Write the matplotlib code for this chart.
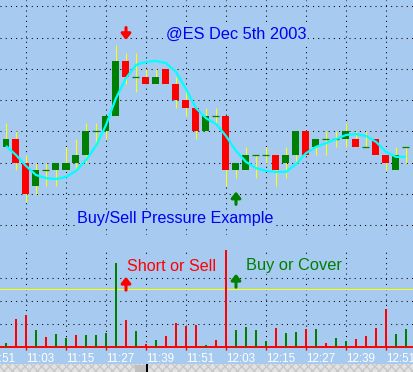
import matplotlib
matplotlib.use('Agg')
import matplotlib.pyplot as plt
import numpy as np
from matplotlib.patches import Rectangle

BG = '#A6CAF0'
RED = '#FF0000'
GREEN = '#008000'
BLUE = '#0000F0'

# ---- data (3-minute bars, @ES Dec 5th 2003, 10:57 .. 12:57) ----
opens = [1064.5, 1064.75, 1064.0, 1063.25, 1063.75, 1063.75, 1063.75, 1064.0, 1064.25, 1065.0,
         1065.0, 1065.5, 1067.25, 1066.75, 1066.75, 1066.5, 1067.0, 1066.5, 1066.0, 1065.75,
         1065.0, 1065.5, 1065.5, 1063.75, 1063.75, 1064.25, 1064.25, 1064.25, 1064.0, 1064.25,
         1065.0, 1064.5, 1064.75, 1064.75, 1064.75, 1064.75, 1064.5, 1064.75, 1064.25, 1063.75,
         1064.5]
highs = [1065.25, 1065.0, 1064.25, 1064.0, 1064.0, 1064.0, 1064.5, 1064.75, 1065.25, 1065.25,
         1065.5, 1067.75, 1067.5, 1067.5, 1067.0, 1067.0, 1067.0, 1066.75, 1066.25, 1065.75,
         1065.75, 1065.75, 1065.5, 1064.0, 1064.5, 1064.25, 1064.5, 1064.25, 1064.5, 1065.0,
         1065.0, 1064.75, 1065.0, 1065.0, 1065.25, 1065.0, 1065.0, 1064.75, 1064.25, 1064.5,
         1064.5]
lows = [1064.5, 1063.75, 1062.75, 1063.0, 1063.25, 1063.25, 1063.75, 1063.75, 1064.0, 1064.5,
        1064.75, 1065.5, 1066.5, 1066.25, 1066.5, 1066.5, 1066.5, 1065.75, 1065.5, 1064.75,
        1065.0, 1065.25, 1063.25, 1063.5, 1063.75, 1063.5, 1064.0, 1063.25, 1063.5, 1064.0,
        1064.25, 1064.25, 1064.25, 1064.5, 1064.5, 1064.5, 1064.5, 1064.25, 1063.75, 1063.75,
        1064.0]
closes = [1064.75, 1064.0, 1063.0, 1063.75, 1063.75, 1064.0, 1064.0, 1064.25, 1065.0, 1065.0,
          1065.5, 1067.25, 1066.75, 1066.75, 1066.5, 1066.75, 1066.5, 1066.0, 1065.75, 1065.0,
          1065.5, 1065.5, 1063.75, 1064.0, 1064.25, 1064.25, 1064.25, 1063.75, 1064.25, 1065.0,
          1064.25, 1064.75, 1064.75, 1064.75, 1065.0, 1064.5, 1064.5, 1064.25, 1064.0, 1064.25,
          1064.5]
smooth = [1064.53, 1064.24, 1063.89, 1063.60, 1063.50, 1063.47, 1063.54, 1063.73, 1064.08, 1064.53,
          1065.20, 1066.06, 1066.70, 1067.12, 1067.22, 1067.25, 1067.18, 1066.90, 1066.35, 1065.74,
          1065.42, 1065.23, 1064.85, 1064.37, 1064.02, 1063.82, 1063.73, 1063.70, 1063.70, 1063.95,
          1064.30, 1064.50, 1064.62, 1064.75, 1064.88, 1064.91, 1064.85, 1064.66, 1064.34, 1064.18,
          1064.18]
volume = [90, 610, 690, 370, 220, 280, 200, 260, 260, 260,
          300, 1820, 590, 350, 70, 150, 240, 520, 460, 480,
          40, 150, 2100, 370, 430, 370, 130, 410, 300, 330,
          390, 390, 90, 200, 130, 170, 240, 410, 820, 280,
          390]
pressure = ['buy', 'sell', 'sell', 'buy', 'sell', 'buy', 'buy', 'sell', 'buy', 'buy',
            'buy', 'buy', 'sell', 'buy', 'sell', 'buy', 'sell', 'sell', 'sell', 'sell',
            'buy', 'sell', 'sell', 'buy', 'buy', 'buy', 'buy', 'sell', 'buy', 'buy',
            'sell', 'buy', 'sell', 'buy', 'buy', 'sell', 'sell', 'sell', 'sell', 'buy',
            'buy']
tick_bars = [2, 6, 10, 14, 18, 22, 26, 30, 34, 38]
tick_labels = ['11:03', '11:15', '11:27', '11:39', '11:51',
               '12:03', '12:15', '12:27', '12:39', '12:51']
first_label_bar, first_label = -2, '10:51'
vol_threshold = 1260
short_bar, cover_bar = 12, 23

n = len(opens)
x = np.arange(n)
o = np.array(opens); h = np.array(highs); l = np.array(lows); c = np.array(closes)

W, H = 413, 372
fig = plt.figure(figsize=(W / 100, H / 100), dpi=100, facecolor=BG)
plt.rcParams['font.family'] = ['Liberation Sans', 'DejaVu Sans']

XL = (-0.6, 40.7)
grid_kw = dict(color='black', linestyle=(0, (1, 4)), linewidth=0.75)
TICK_LEN, TICK_PAD, TICK_FS = 2.3, 1.8, 8.4

# ---------------- price panel ----------------
axp = fig.add_axes([0, (H - 235) / H, 1, 235 / H])
axp.set_facecolor(BG)
for s in axp.spines.values():
    s.set_visible(False)
axp.set_xticks(tick_bars)
axp.set_yticks(np.arange(1062, 1070, 1))
axp.tick_params(length=0, labelbottom=False, labelleft=False)
axp.set_axisbelow(True)
axp.grid(True, **grid_kw)

axp.vlines(x, l, h, color='#FFFF00', linewidth=0.8, zorder=2)
up = c > o
dn = c < o
dj = c == o
axp.bar(x[up], (c - o)[up], bottom=o[up], width=0.7, color=GREEN, zorder=3, linewidth=0)
axp.bar(x[dn], (o - c)[dn], bottom=c[dn], width=0.7, color=RED, zorder=3, linewidth=0)
axp.hlines(c[dj], x[dj] - 0.35, x[dj] + 0.35, color=GREEN, linewidth=0.9, zorder=3)
axp.plot(x, smooth, color='#00FFFF', linewidth=1.6, zorder=4, solid_capstyle='butt')

arrow_style = '-|>,head_length=0.35,head_width=0.28'
axp.annotate('', xy=(short_bar, 1067.92), xytext=(short_bar, 1068.32),
             arrowprops=dict(arrowstyle=arrow_style, lw=2.2, color=RED,
                             shrinkA=0, shrinkB=0), zorder=5)
axp.annotate('', xy=(cover_bar, 1063.07), xytext=(cover_bar, 1062.66),
             arrowprops=dict(arrowstyle=arrow_style, lw=2.2, color=GREEN,
                             shrinkA=0, shrinkB=0), zorder=5)

tb = dict(facecolor=BG, edgecolor='none', pad=0.6)
axp.text(16.0, 1068.1, '@ES Dec 5th 2003', color=BLUE, fontsize=11.8,
         ha='left', va='center', bbox=tb, zorder=6)
axp.text(7.1, 1062.2, 'Buy/Sell Pressure Example', color=BLUE, fontsize=11.6,
         ha='left', va='center', bbox=tb, zorder=6)
axp.set_xlim(*XL)
axp.set_ylim(1061.68, 1069.2)

# ---------------- volume panel ----------------
axv = fig.add_axes([0, (H - 347) / H, 1, 98 / H])
axv.set_facecolor(BG)
for k, s in axv.spines.items():
    s.set_visible(k == 'bottom')
axv.spines['bottom'].set_color(RED)
axv.spines['bottom'].set_linewidth(1.4)
axv.set_yticks([500, 1000, 1500])
axv.set_xticks(tick_bars)
axv.set_xticklabels(tick_labels)
axv.tick_params(axis='y', length=0, labelleft=False)
axv.tick_params(axis='x', length=TICK_LEN, width=1, color=RED, pad=TICK_PAD,
                labelsize=TICK_FS, labelcolor='white')
for lab in axv.get_xticklabels():
    lab.set_ha('left')
axv.set_axisbelow(True)
axv.grid(True, **grid_kw)

# partly visible first time label (its tick lies left of the view)
axv.annotate(first_label, xy=(first_label_bar, 0), xycoords=('data', 'axes fraction'),
             xytext=(0, -(TICK_LEN + TICK_PAD)), textcoords='offset points',
             ha='left', va='top', color='white', fontsize=TICK_FS, annotation_clip=False)

vcol = [GREEN if p == 'buy' else RED for p in pressure]
axv.bar(x, volume, width=0.22, color=vcol, linewidth=0, zorder=3, clip_on=False)
axv.axhline(vol_threshold, color='#FFFF00', linewidth=0.8, zorder=2)

axv.annotate('', xy=(short_bar, 1525), xytext=(short_bar, 1235),
             arrowprops=dict(arrowstyle=arrow_style, lw=2.2, color=RED,
                             shrinkA=0, shrinkB=0), zorder=5)
axv.annotate('', xy=(cover_bar, 1590), xytext=(cover_bar, 1300),
             arrowprops=dict(arrowstyle=arrow_style, lw=2.2, color=GREEN,
                             shrinkA=0, shrinkB=0), zorder=5)
axv.text(12.1, 1750, 'Short or Sell', color=RED, fontsize=11.6,
         ha='left', va='center', bbox=tb, zorder=6)
axv.text(24.0, 1770, 'Buy or Cover', color=GREEN, fontsize=11.8,
         ha='left', va='center', bbox=tb, zorder=6)
axv.set_xlim(*XL)
axv.set_ylim(0, 2130)

# ---------------- bottom scrollbar strip ----------------
fig.patches.append(Rectangle((0, 0), 1, 8 / H, transform=fig.transFigure,
                             facecolor='#E2E2E2', edgecolor='#C8C8C8', hatch='xxxx',
                             linewidth=0, zorder=1))
fig.patches.append(Rectangle((135 / W, 0), 12 / W, 7 / H, transform=fig.transFigure,
                             facecolor='#C0C0C0', edgecolor='none', zorder=2))
fig.patches.append(Rectangle((146 / W, 0), 1.5 / W, 8 / H, transform=fig.transFigure,
                             facecolor='black', edgecolor='none', zorder=3))

fig.savefig('out.png', dpi=100, facecolor=BG)
